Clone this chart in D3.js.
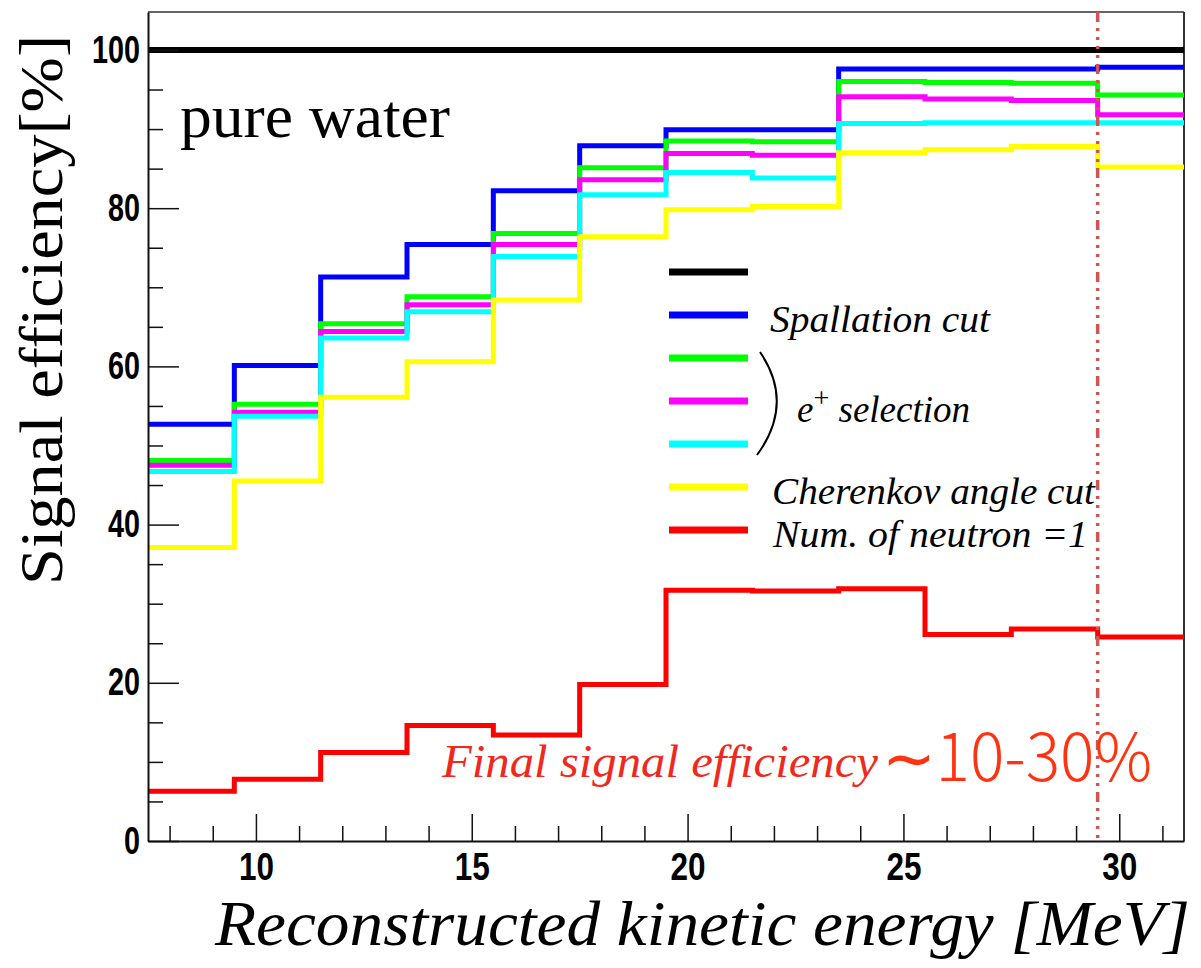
<!DOCTYPE html>
<html>
<head>
<meta charset="utf-8">
<script src="https://cdn.jsdelivr.net/npm/d3@7"></script>
<style>
  body { margin: 0; background: #fff; }
  svg { display: block; }
</style>
</head>
<body>
<div id="chart"></div>
<script>
// bin edges in MeV (2 MeV bins)
const binEdges = [7.5, 9.5, 11.5, 13.5, 15.5, 17.5, 19.5, 21.5, 23.5, 25.5, 27.5, 29.5, 31.5];

// efficiency [%] per bin, one array per cut stage
const noCut      = [100, 100, 100, 100, 100, 100, 100, 100, 100, 100, 100, 100];
const spallation = [52.7, 60.1, 71.3, 75.4, 82.2, 87.9, 89.9, 89.9, 97.6, 97.6, 97.6, 97.8];
const eSel1      = [48.1, 55.2, 65.4, 68.8, 76.8, 85.1, 88.5, 88.4, 96.0, 95.9, 95.8, 94.3];
const eSel2      = [47.5, 54.2, 64.4, 67.8, 75.4, 83.6, 86.9, 86.7, 94.1, 93.8, 93.6, 91.8];
const eSel3      = [46.7, 53.7, 63.6, 66.9, 73.9, 81.7, 84.5, 83.8, 90.7, 90.8, 90.8, 90.8];
const cherenkov  = [37.1, 45.5, 56.1, 60.6, 68.4, 76.4, 79.8, 80.2, 87.0, 87.4, 87.8, 85.2];
const oneNeutron = [6.3, 7.8, 11.2, 14.6, 13.4, 19.8, 31.7, 31.6, 31.9, 26.1, 26.8, 25.8];

const seriesColors = ["#000000", "#0000ff", "#00ff00", "#ff00ff", "#00ffff", "#ffff00", "#ff0000"];

const xMajorTicks = [10, 15, 20, 25, 30];
const xMinorTicks = [8, 9, 11, 12, 13, 14, 16, 17, 18, 19, 21, 22, 23, 24, 26, 27, 28, 29, 31];
const yMajorTicks = [0, 20, 40, 60, 80, 100];
const yMinorTicks = [5, 10, 15, 25, 30, 35, 45, 50, 55, 65, 70, 75, 85, 90, 95];

const cutEnergy = 29.5;

const width = 1201, height = 968;
const plot = {left: 148, right: 1184, top: 12, bottom: 841};

const svg = d3.select("#chart")
    .append("svg")
    .attr("width", width)
    .attr("height", height);

const x = d3.scaleLinear()
    .domain([7.5, 31.5])
    .range([plot.left, plot.right]);

const y = d3.scaleLinear()
    .domain([0, 104.8])
    .range([plot.bottom, plot.top]);

// frame
svg.append("line")
    .attr("x1", plot.left).attr("x2", plot.right)
    .attr("y1", plot.top).attr("y2", plot.top)
    .attr("stroke", "#666").attr("stroke-width", 2);
svg.append("line")
    .attr("x1", plot.right).attr("x2", plot.right)
    .attr("y1", plot.top).attr("y2", plot.bottom)
    .attr("stroke", "#333").attr("stroke-width", 2);

// histograms drawn as steps
const series = [noCut, spallation, eSel1, eSel2, eSel3, cherenkov, oneNeutron];
const step = d3.line()
    .x(d => x(d[0]))
    .y(d => y(d[1]))
    .curve(d3.curveStepAfter);

series.forEach(function(vals, i) {
    let pts = vals.map((v, j) => [binEdges[j], v]);
    pts.push([binEdges[vals.length], vals[vals.length - 1]]);
    svg.append("path")
        .attr("d", step(pts))
        .attr("fill", "none")
        .attr("stroke", seriesColors[i])
        .attr("stroke-width", i === 0 ? 6 : 5);
});

// vertical cut line
svg.append("line")
    .attr("x1", x(cutEnergy)).attr("x2", x(cutEnergy))
    .attr("y1", plot.top).attr("y2", plot.bottom)
    .attr("stroke", "#cc5555")
    .attr("stroke-width", 3.5)
    .attr("stroke-dasharray", "10,6,3,6,3,6,3,6,3,6");

// axes
const axisFont = "'Liberation Sans', Arial, sans-serif";

svg.append("g")
    .attr("transform", `translate(${plot.left},0)`)
    .call(d3.axisLeft(y).tickValues(yMinorTicks).tickSize(-15).tickFormat(""))
    .call(g => g.select(".domain").remove());

const yAxis = svg.append("g")
    .attr("transform", `translate(${plot.left},0)`)
    .call(d3.axisLeft(y).tickValues(yMajorTicks).tickSize(-31).tickSizeOuter(0).tickPadding(8));

svg.append("g")
    .attr("transform", `translate(0,${plot.bottom})`)
    .call(d3.axisBottom(x).tickValues(xMinorTicks).tickSize(-15).tickFormat(""))
    .call(g => g.select(".domain").remove());

const xAxis = svg.append("g")
    .attr("transform", `translate(0,${plot.bottom})`)
    .call(d3.axisBottom(x).tickValues(xMajorTicks).tickSize(-27).tickSizeOuter(0).tickPadding(12));

svg.selectAll(".tick line").attr("stroke", "#111").attr("stroke-width", 1.5);
[xAxis, yAxis].forEach(function(a) {
    a.select(".domain").attr("stroke", "#111").attr("stroke-width", 2);
    a.selectAll("text")
        .attr("font-family", axisFont)
        .attr("font-weight", "bold")
        .attr("font-size", 38)
        .attr("fill", "#000")
        .attr("lengthAdjust", "spacingAndGlyphs");
});
yAxis.selectAll("text").attr("textLength", d => String(d).length * 16);
xAxis.selectAll("text").attr("textLength", d => String(d).length * 17.5);

// axis titles
svg.append("text")
    .attr("transform", "translate(62,310) rotate(-90)")
    .attr("text-anchor", "middle")
    .attr("font-family", "'Liberation Serif', 'Times New Roman', serif")
    .attr("font-size", 62)
    .attr("textLength", 550)
    .attr("lengthAdjust", "spacingAndGlyphs")
    .text("Signal efficiency[%]");

svg.append("text")
    .attr("x", 215).attr("y", 945)
    .attr("font-family", "'Liberation Serif', 'Times New Roman', serif")
    .attr("font-style", "italic")
    .attr("font-size", 64)
    .attr("textLength", 975)
    .attr("lengthAdjust", "spacingAndGlyphs")
    .text("Reconstructed kinetic energy [MeV]");

svg.append("text")
    .attr("x", 180).attr("y", 137)
    .attr("font-family", "'Liberation Serif', 'Times New Roman', serif")
    .attr("font-size", 62)
    .attr("textLength", 270)
    .attr("lengthAdjust", "spacingAndGlyphs")
    .text("pure water");

// legend
const legendFont = "'Liberation Serif', 'Times New Roman', serif";
const legendTop = 272, legendStep = 43;
const legend = svg.append("g");

seriesColors.forEach(function(c, i) {
    legend.append("line")
        .attr("x1", 669).attr("x2", 748)
        .attr("y1", legendTop + i * legendStep)
        .attr("y2", legendTop + i * legendStep)
        .attr("stroke", c)
        .attr("stroke-width", 7);
});

function legendText(label, xPos, row, len) {
    legend.append("text")
        .attr("x", xPos)
        .attr("y", legendTop + row * legendStep + 17)
        .attr("font-family", legendFont)
        .attr("font-style", "italic")
        .attr("font-size", 37)
        .attr("textLength", len)
        .attr("lengthAdjust", "spacingAndGlyphs")
        .text(label);
}
legendText("Spallation cut", 770, 1, 220);
legendText("Cherenkov angle cut", 772, 5, 323);
legendText("Num. of neutron =1", 773, 6, 315);

const eText = legend.append("text")
    .attr("x", 797).attr("y", 422)
    .attr("font-family", legendFont)
    .attr("font-style", "italic")
    .attr("font-size", 37);
eText.append("tspan").text("e");
eText.append("tspan").attr("dy", -15).attr("font-size", 28).attr("font-style", "normal").text("+");
eText.append("tspan").attr("dy", 15).text(" selection");

// bracket grouping the three e+ selection lines
legend.append("path")
    .attr("d", "M760,352 Q795,403 757,455")
    .attr("fill", "none")
    .attr("stroke", "#000")
    .attr("stroke-width", 2);

// annotation
svg.append("text")
    .attr("x", 442).attr("y", 777)
    .attr("font-family", legendFont)
    .attr("font-style", "italic")
    .attr("font-size", 46)
    .attr("fill", "#f0281e")
    .attr("textLength", 436)
    .attr("lengthAdjust", "spacingAndGlyphs")
    .text("Final signal efficiency");

svg.append("text")
    .attr("x", 882).attr("y", 781)
    .attr("font-family", "'Noto Sans CJK JP', 'Noto Sans', sans-serif")
    .attr("font-size", 66)
    .attr("font-weight", 300)
    .attr("fill", "#ff3311")
    .attr("textLength", 270)
    .attr("lengthAdjust", "spacingAndGlyphs")
    .text("∼10-30%");
</script>
</body>
</html>
